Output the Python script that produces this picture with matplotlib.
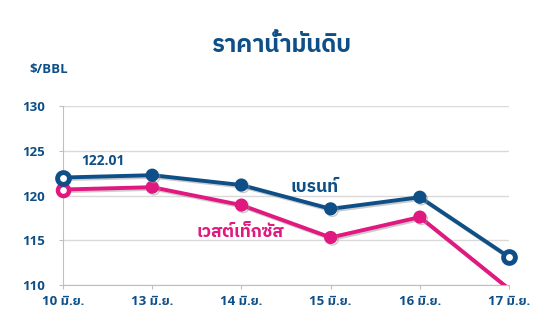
import matplotlib
matplotlib.use("Agg")
import matplotlib.pyplot as plt
import matplotlib.patheffects as pe

# --- data ---
dates = ["10 มิ.ย.", "13 มิ.ย.", "14 มิ.ย.", "15 มิ.ย.", "16 มิ.ย.", "17 มิ.ย."]
brent = [122.01, 122.27, 121.17, 118.51, 119.81, 113.12]
wti = [120.67, 120.93, 118.93, 115.31, 117.59, 109.56]
y_ticks = [110, 115, 120, 125, 130]

NAVY = "#0d4f86"
PINK = "#e0187f"

# Latin glyphs from Open Sans, Thai falls back to IBM Plex Sans Thai (has a bold cut)
plt.rcParams["font.family"] = ["Open Sans", "IBM Plex Sans Thai", "Noto Sans Thai", "DejaVu Sans"]

fig = plt.figure(figsize=(5.37, 3.23), dpi=100)
ax = fig.add_axes([0.1173, 0.1176, 0.8307, 0.5542])

x = list(range(len(dates)))
shadow = [pe.SimpleLineShadow(offset=(1.2, -1.2), shadow_color="0.6", alpha=0.5), pe.Normal()]

# WTI: last point falls below the axis, its marker is not shown
ax.plot(x, wti, color=PINK, lw=2.8, marker="o", ms=8.5, mfc=PINK, mec=PINK,
        markevery=list(range(len(x) - 1)), zorder=3, path_effects=shadow)
ax.plot(x, brent, color=NAVY, lw=2.8, marker="o", ms=8.5, mfc=NAVY, mec=NAVY,
        zorder=4, path_effects=shadow)

# hollow end markers
ax.plot(x[0], wti[0], "o", ms=8, mfc="white", mec=PINK, mew=3.2, zorder=5, clip_on=False)
ax.plot([x[0], x[-1]], [brent[0], brent[-1]], "o", ms=8.5, mfc="white",
        mec=NAVY, mew=3.5, zorder=6, clip_on=False)

ax.set_ylim(110, 130)
ax.set_xlim(0, len(dates) - 1)
ax.set_yticks(y_ticks)
ax.set_xticks(x)
ax.set_xticklabels(dates)
ax.grid(axis="y", color="#d9d9d9", lw=1)
ax.set_axisbelow(True)
for s in ["top", "right"]:
    ax.spines[s].set_visible(False)
ax.spines["left"].set_color("#bfbfbf")
ax.spines["bottom"].set_color("#bfbfbf")
ax.tick_params(axis="both", colors="#bfbfbf", length=3, labelcolor=NAVY, labelsize=9.5)
for lab in ax.get_xticklabels() + ax.get_yticklabels():
    lab.set_fontweight("bold")
ax.tick_params(axis="y", pad=10)
ax.tick_params(axis="x", pad=4)

ax.text(0.2, 123.9, "122.01", color=NAVY, fontsize=10, fontweight="bold", va="center")
ax.text(2.545, 120.9, "เบรนท์", color=NAVY, fontsize=12.5, fontweight="bold", va="center")
ax.text(1.5, 115.9, "เวสต์เท็กซัส", color=PINK, fontsize=12.5, fontweight="bold", va="center")

fig.text(0.525, 0.84, "ราคาน้ำมันดิบ", color=NAVY, fontsize=17, fontweight="bold", ha="center")
fig.text(0.055, 0.775, "$/BBL", color=NAVY, fontsize=9.5, fontweight="bold")

fig.savefig("out.png", dpi=100)
